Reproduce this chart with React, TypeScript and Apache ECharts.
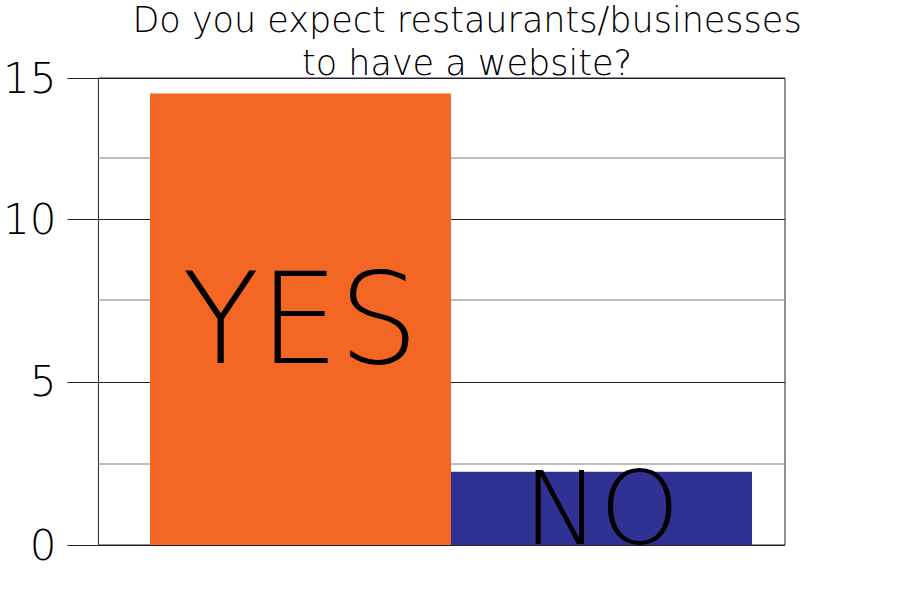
import React, { useEffect, useRef } from "react";
import * as echarts from "echarts";

const categories = ["YES", "NO"];
const values = [14.5, 2.35];
const barColors = ["#F46623", "#2F3293"];
const labelSizes = [126, 102];
const titleLines = ["Do you expect restaurants/businesses", "to have a website?"];
// tick labels and where the picture draws them (its rules are not evenly spaced)
const tickLabels = ["0", "5", "10", "15"];
const tickPositions = [0, 5.24, 10.47, 15];
const minorRulePositions = [2.6, 7.87, 12.43];

const FONT = "DejaVu Sans";
const DARK = "#231f30";

export default function App() {
  const ref = useRef<HTMLDivElement>(null);
  useEffect(() => {
    if (!ref.current) return;
    const chart = echarts.init(ref.current, null, { renderer: "svg" });
    chart.setOption({
      animation: false,
      backgroundColor: "#ffffff",
      graphic: titleLines.map((t, i) => ({
        type: "text",
        x: 467,
        y: 2 + i * 43,
        style: {
          text: t,
          font: `200 35px "${FONT}"`,
          lineHeight: 35,
          textAlign: "center",
          fill: "#000",
        },
      })),
      grid: [
        { left: 97, right: 115, top: 78, bottom: 55, show: true, borderColor: DARK, borderWidth: 1 },
        { left: 150, right: 148, top: 78, bottom: 55 },
      ],
      xAxis: [
        { type: "category", gridIndex: 0, data: categories, show: false },
        { type: "category", gridIndex: 1, data: categories, show: false },
      ],
      yAxis: [
        {
          type: "value",
          gridIndex: 0,
          min: 0,
          max: 15,
          axisLine: { show: false },
          axisTick: { show: false, customValues: minorRulePositions },
          axisLabel: { show: false, customValues: minorRulePositions },
          splitLine: { show: true, lineStyle: { color: "#a8a8a8", width: 1.5 } },
        },
        {
          type: "value",
          gridIndex: 0,
          position: "left",
          offset: 0,
          min: 0,
          max: 15,
          axisLine: { show: false },
          axisTick: { show: true, length: 31, customValues: tickPositions, lineStyle: { color: DARK, width: 1 } },
          axisLabel: {
            show: true,
            customValues: tickPositions,
            margin: 42,
            fontFamily: FONT,
            fontWeight: 200,
            fontSize: 42,
            color: "#000",
            formatter: (v: number) => {
              const i = tickPositions.findIndex((p) => Math.abs(p - v) < 1e-6);
              return i >= 0 ? tickLabels[i] : "";
            },
          },
          splitLine: { show: true, lineStyle: { color: DARK, width: 1 } },
        },
        { type: "value", gridIndex: 1, min: 0, max: 15, show: false },
      ],
      series: [
        {
          type: "bar",
          xAxisIndex: 1,
          yAxisIndex: 2,
          barCategoryGap: "0%",
          data: values.map((v, i) => ({
            value: v,
            itemStyle: { color: barColors[i] },
            label: {
              show: true,
              position: "inside",
              formatter: categories[i],
              fontFamily: FONT,
              fontWeight: 200,
              fontSize: labelSizes[i],
              color: "#000",
            },
          })),
        },
      ],
    });
    return () => chart.dispose();
  }, []);
  return <div ref={ref} style={{ width: 900, height: 600, position: "absolute", left: 0, top: 0 }} />;
}
